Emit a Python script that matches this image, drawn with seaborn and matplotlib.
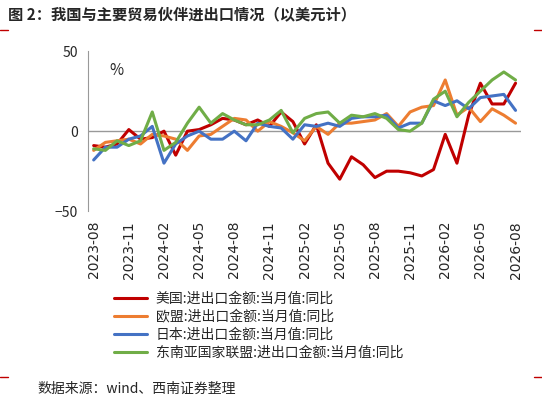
import pandas as pd
import matplotlib.pyplot as plt
import seaborn as sns

months = pd.period_range("2023-08", "2026-08", freq="M").strftime("%Y-%m").tolist()

us = [-9, -10, -8, 1, -5, -4, 0, -15, 0, 1, 4, 8,
      7, 4, 7, 3, 12, 6, -8, 4, -20, -30, -16, -21,
      -29, -25, -25, -26, -28, -24, -2, -20, 10, 30, 17, 17, 30]
eu = [-12, -7, -6, -5, -8, -2, -3, -5, -12, -3, -2, 3,
      8, 7, 0, 6, 3, -1, -6, 3, -2, 5, 5, 6,
      7, 11, 3, 12, 15, 16, 32, 10, 15, 6, 14, 10, 5]
jp = [-18, -10, -10, -5, -3, 3, -20, -8, -3, 0, -5, -5,
      0, -6, 5, 3, 2, -5, 4, 3, 5, 3, 8, 9,
      9, 10, 2, 5, 5, 19, 16, 19, 14, 21, 22, 23, 13]
asean = [-11, -12, -6, -9, -6, 12, -12, -7, 5, 15, 5, 11,
         7, 4, 4, 7, 13, -1, 8, 11, 12, 5, 10, 9,
         11, 8, 1, 0, 5, 20, 25, 9, 18, 25, 32, 37, 32]

series_names = ["美国:进出口金额:当月值:同比", "欧盟:进出口金额:当月值:同比",
                "日本:进出口金额:当月值:同比", "东南亚国家联盟:进出口金额:当月值:同比"]
colors = ["#c00000", "#ed7d31", "#4472c4", "#70ad47"]

df = pd.DataFrame({"month": months, series_names[0]: us, series_names[1]: eu,
                   series_names[2]: jp, series_names[3]: asean})
long = df.melt(id_vars="month", var_name="series", value_name="value")
long["x"] = long["month"].map({m: i for i, m in enumerate(months)})

sns.set_style("white")
plt.rcParams['font.family'] = ['Noto Sans CJK SC', 'DejaVu Sans']

fig = plt.figure(figsize=(5.42, 4.03), dpi=100)
ax = fig.add_axes([0.162, 0.476, 0.80, 0.397])
sns.lineplot(data=long, x="x", y="value", hue="series", hue_order=series_names,
             palette=colors, linewidth=2.2, ax=ax, legend=False)

ax.set_xlim(-0.5, len(months) - 0.5)
ax.set_ylim(-50, 50)
ax.set_yticks([-50, 0, 50])
ax.axhline(0, color="#999999", linewidth=1, zorder=0)
ax.set_xticks(range(0, len(months), 3))
ax.set_xticklabels(months[::3], rotation=90, fontsize=10, family="DejaVu Sans")
ax.tick_params(axis="y", labelsize=10)
ax.set_xlabel("")
ax.set_ylabel("")
for s in ["top", "right", "bottom"]:
    ax.spines[s].set_visible(False)
ax.spines["left"].set_color("#999999")
ax.text(0.05, 0.93, "%", transform=ax.transAxes, fontsize=11, style="italic", va="top")

handles = [plt.Line2D([], [], color=c, linewidth=2.2) for c in colors]
fig.legend(handles, series_names, loc="upper left", bbox_to_anchor=(0.2, 0.29),
           frameon=False, fontsize=10, handlelength=2.4, labelspacing=0.3,
           borderaxespad=0, handletextpad=0.6)

fig.text(0.015, 0.965, "图 2：我国与主要贸易伙伴进出口情况（以美元计）",
         fontsize=11, fontweight="bold", va="center")
for y in [0.925, 0.065]:
    fig.add_artist(plt.Line2D([0.0, 0.015], [y, y], color="#c00000", linewidth=1))
    fig.add_artist(plt.Line2D([0.985, 1.0], [y, y], color="#c00000", linewidth=1))
fig.text(0.07, 0.035, "数据来源：wind、西南证券整理", fontsize=10, style="italic", va="center")

fig.savefig("out.png", dpi=100)
